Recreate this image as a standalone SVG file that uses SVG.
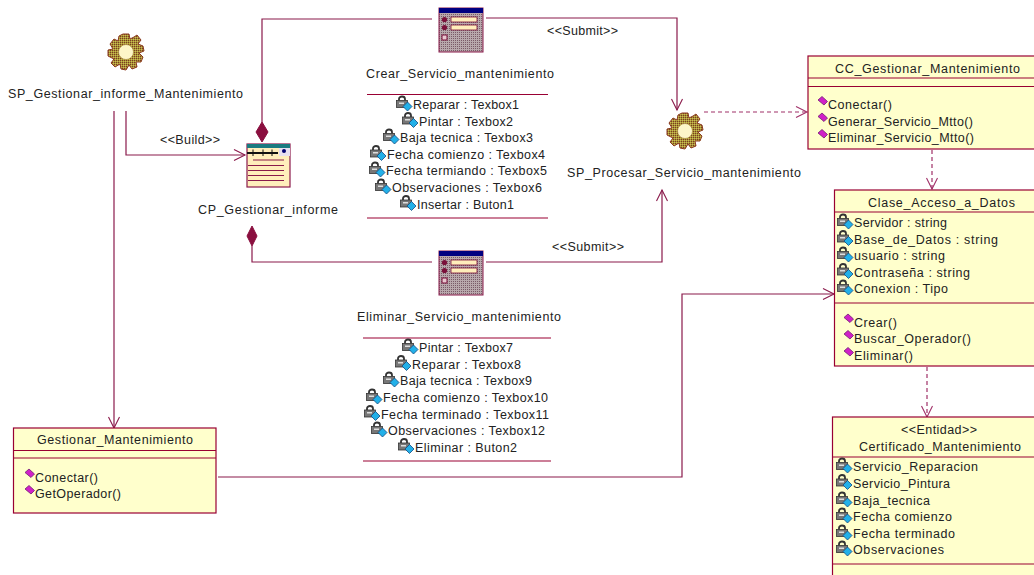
<svg xmlns="http://www.w3.org/2000/svg" width="1034" height="575" viewBox="0 0 1034 575">
<style>
text{font-family:"Liberation Sans",Arial,sans-serif;font-size:12.5px;fill:#222;white-space:pre}
.c{fill:none;stroke:#8a1a4b;stroke-width:1.2}
.d{stroke-dasharray:4 3;stroke:#a03068}
.box{fill:#ffffcc;stroke:#990033;stroke-width:1.2}
.sep{fill:none;stroke:#990033;stroke-width:1.1}
.comp{fill:#8a0f3f;stroke:#8a0f3f}
</style>
<defs>
<marker id="arr" markerUnits="userSpaceOnUse" markerWidth="14" markerHeight="14" refX="12" refY="7" orient="auto"><path d="M1 1.500L12 7L1 12.500" fill="none" stroke="#8a1a4b" stroke-width="1.1"/></marker>
<marker id="arrd" markerUnits="userSpaceOnUse" markerWidth="14" markerHeight="14" refX="12" refY="7" orient="auto"><path d="M1 1.500L12 7L1 12.500" fill="none" stroke="#a03068" stroke-width="1.1"/></marker>
<pattern id="dith" width="2" height="2" patternUnits="userSpaceOnUse"><rect width="2" height="2" fill="#a89038"/><rect width="1" height="1" fill="#7a4020"/><rect x="1" y="1" width="1" height="1" fill="#c8c050"/></pattern>
<pattern id="grid" width="2" height="2" patternUnits="userSpaceOnUse"><rect width="2" height="2" fill="#b8a8ac"/><rect width="1" height="1" fill="#7a5a68"/></pattern>
<g id="gear"><path d="M-3-18L3-18L4-13L8-15L11-17L15-12L12-8L17-6L18-1L13 1L17 5L15 10L10 10L11 15L6 17L3 13L0 18L-5 17L-6 12L-11 15L-15 11L-12 7L-18 4L-18-2L-13-3L-16-8L-12-13L-8-11L-7-16Z" fill="url(#dith)" stroke="#8a3a20" stroke-width="1"/><circle r="7.500" fill="#fdf6c8" stroke="#a08030" stroke-width=".6"/></g>
<g id="form"><rect width="44" height="44" fill="url(#grid)" stroke="#8a1a4b"/><rect width="44" height="5" fill="#000080"/><circle cx="5.500" cy="11.500" r="2.600" fill="#7a0f3a"/><circle cx="5.500" cy="19.500" r="2.600" fill="#7a0f3a"/><rect x="12" y="9" width="26" height="5" fill="#ffeebb" stroke="#7a0f3a" stroke-width=".8"/><rect x="12" y="17" width="26" height="5" fill="#ffeebb" stroke="#7a0f3a" stroke-width=".8"/><rect x="3" y="27" width="5" height="5" fill="#e8c8d0" stroke="#7a0f3a"/></g>
<g id="lock"><path d="M-14-8.500v-1.500a3 2.500 0 0 1 6 0v1.500" fill="none" stroke="#333" stroke-width="1.800"/><rect x="-16.500" y="-8.500" width="11" height="7" fill="#777" stroke="#333" stroke-width=".8"/><rect x="-14" y="-6.500" width="5" height="1.500" fill="#ddd"/><path d="M-5.500-7L-1-2.500L-5.500 2L-10-2.500Z" fill="#22b0e8" stroke="#124a80" stroke-width=".8"/></g>
<path id="op" d="M-10-9L-6-12.500L-.5-7.500L-4-4Z" fill="#d020c8" stroke="#702070" stroke-width=".8"/>
</defs>

<g id="connectors">
<path class="c" d="M114 111V428" marker-end="url(#arr)"/>
<path class="c" d="M126 111V155H245" marker-end="url(#arr)"/>
<path class="c" d="M262 122V19H432"/>
<path class="comp" d="M262 122L268 132L262 142L256 132Z"/>
<path class="c" d="M486 18H677V110" marker-end="url(#arr)"/>
<path class="c" d="M252 246V262H432"/>
<path class="comp" d="M252 226L257 236L252 246L247 236Z"/>
<path class="c" d="M486 262H662V190" marker-end="url(#arr)"/>
<path class="c d" d="M704 112H807" marker-end="url(#arrd)"/>
<path class="c d" d="M932 150V189" marker-end="url(#arrd)"/>
<path class="c" d="M218 477H682V294H834" marker-end="url(#arr)"/>
<path class="c d" d="M927 367V417" marker-end="url(#arrd)"/>
<text x="160" y="144" textLength="60">&lt;&lt;Build&gt;&gt;</text>
<text x="547" y="35" textLength="71">&lt;&lt;Submit&gt;&gt;</text>
<text x="552" y="251" textLength="72">&lt;&lt;Submit&gt;&gt;</text>
</g>

<g id="sp_gestionar"><use href="#gear" x="126" y="52"/><text x="8" y="98" textLength="235">SP_Gestionar_informe_Mantenimiento</text></g>

<g id="cp_gestionar">
<rect x="247" y="144" width="43" height="43" fill="#ffeebb" stroke="#8a1a4b" stroke-width="1.2"/>
<rect x="247" y="144" width="43" height="4" fill="#1a7a80"/>
<path d="M247 153H278" stroke="#111" stroke-width="2"/>
<path d="M253 149.500V156M263 149.500V156M272 149.500V156" stroke="#111" stroke-width="1"/>
<rect x="279" y="148" width="11" height="8" fill="#e8e0f0"/><circle cx="284" cy="151" r="2" fill="#000070"/>
<path d="M253 160H284M248 165.500H284M248 170.500H284M248 175.500H284M248 180.500H284" stroke="#8a1a4b" fill="none"/>
<text x="198" y="214" textLength="140">CP_Gestionar_informe</text>
</g>

<g id="crear_servicio">
<use href="#form" x="439" y="8"/>
<text x="366" y="78" textLength="188">Crear_Servicio_mantenimiento</text>
<path class="sep" d="M367 94.500H548M367 218H548"/>
<use href="#lock" x="413" y="109"/><text x="413" y="109" textLength="106">Reparar : Texbox1</text>
<use href="#lock" x="419" y="125.500"/><text x="419" y="125.500" textLength="94">Pintar : Texbox2</text>
<use href="#lock" x="400" y="142"/><text x="400" y="142" textLength="133">Baja tecnica : Texbox3</text>
<use href="#lock" x="387" y="158.500"/><text x="387" y="158.500" textLength="158">Fecha comienzo : Texbox4</text>
<use href="#lock" x="386" y="175"/><text x="386" y="175" textLength="161">Fecha termiando : Texbox5</text>
<use href="#lock" x="392" y="192"/><text x="392" y="192" textLength="150">Observaciones : Texbox6</text>
<use href="#lock" x="417" y="208.500"/><text x="417" y="208.500" textLength="97">Insertar : Buton1</text>
</g>

<g id="eliminar_servicio">
<use href="#form" x="439" y="251"/>
<text x="357" y="321" textLength="204">Eliminar_Servicio_mantenimiento</text>
<path class="sep" d="M363 338H551M363 461H551"/>
<use href="#lock" x="419" y="352"/><text x="419" y="352" textLength="94">Pintar : Texbox7</text>
<use href="#lock" x="412" y="368.500"/><text x="412" y="368.500" textLength="109">Reparar : Texbox8</text>
<use href="#lock" x="400" y="385"/><text x="400" y="385" textLength="132">Baja tecnica : Texbox9</text>
<use href="#lock" x="383" y="402"/><text x="383" y="402" textLength="165">Fecha comienzo : Texbox10</text>
<use href="#lock" x="381" y="418.500"/><text x="381" y="418.500" textLength="168">Fecha terminado : Texbox11</text>
<use href="#lock" x="388" y="435"/><text x="388" y="435" textLength="157">Observaciones : Texbox12</text>
<use href="#lock" x="415" y="451.500"/><text x="415" y="451.500" textLength="102">Eliminar : Buton2</text>
</g>

<g id="sp_procesar"><use href="#gear" x="685" y="131"/><text x="567" y="177" textLength="234">SP_Procesar_Servicio_mantenimiento</text></g>

<g id="cc_gestionar">
<rect class="box" x="808" y="56" width="240" height="93"/>
<path class="sep" d="M808 78H1034M808 86.500H1034"/>
<text x="835" y="73" textLength="185">CC_Gestionar_Mantenimiento</text>
<use href="#op" x="828" y="109"/><text x="828" y="109" textLength="64">Conectar()</text>
<use href="#op" x="828" y="125.500"/><text x="828" y="125.500" textLength="145">Generar_Servicio_Mtto()</text>
<use href="#op" x="828" y="142"/><text x="828" y="142" textLength="146">Eliminar_Servicio_Mtto()</text>
</g>

<g id="clase_acceso">
<rect class="box" x="834.500" y="190" width="220" height="176"/>
<path class="sep" d="M834 212H1034M834 303H1034"/>
<text x="868" y="207" textLength="147">Clase_Acceso_a_Datos</text>
<use href="#lock" x="854" y="227"/><text x="854" y="227" textLength="93">Servidor : string</text>
<use href="#lock" x="854" y="243.500"/><text x="854" y="243.500" textLength="144">Base_de_Datos : string</text>
<use href="#lock" x="854" y="260"/><text x="854" y="260" textLength="91">usuario : string</text>
<use href="#lock" x="854" y="276.500"/><text x="854" y="276.500" textLength="116">Contraseña : string</text>
<use href="#lock" x="854" y="293"/><text x="854" y="293" textLength="94">Conexion : Tipo</text>
<use href="#op" x="854" y="326.500"/><text x="854" y="326.500" textLength="43">Crear()</text>
<use href="#op" x="854" y="343"/><text x="854" y="343" textLength="117">Buscar_Operador()</text>
<use href="#op" x="854" y="360"/><text x="854" y="360" textLength="59">Eliminar()</text>
</g>

<g id="certificado">
<rect class="box" x="832.500" y="417" width="220" height="170"/>
<path class="sep" d="M832 457H1034M832 564H1034"/>
<text x="901" y="434" textLength="76">&lt;&lt;Entidad&gt;&gt;</text>
<text x="859" y="451" textLength="162">Certificado_Mantenimiento</text>
<use href="#lock" x="853" y="471"/><text x="853" y="471" textLength="125">Servicio_Reparacion</text>
<use href="#lock" x="853" y="487.500"/><text x="853" y="487.500" textLength="97">Servicio_Pintura</text>
<use href="#lock" x="853" y="505"/><text x="853" y="505" textLength="77">Baja_tecnica</text>
<use href="#lock" x="853" y="521"/><text x="853" y="521" textLength="99">Fecha comienzo</text>
<use href="#lock" x="853" y="538"/><text x="853" y="538" textLength="102">Fecha terminado</text>
<use href="#lock" x="853" y="554"/><text x="853" y="554" textLength="91">Observaciones</text>
</g>

<g id="gestionar_mantenimiento">
<rect class="box" x="13.500" y="428" width="202.500" height="85"/>
<path class="sep" d="M14 450.500H216M14 458H216"/>
<text x="37" y="444" textLength="156">Gestionar_Mantenimiento</text>
<use href="#op" x="35" y="481.500"/><text x="35" y="481.500" textLength="63">Conectar()</text>
<use href="#op" x="35" y="498"/><text x="35" y="498" textLength="86">GetOperador()</text>
</g>
</svg>
